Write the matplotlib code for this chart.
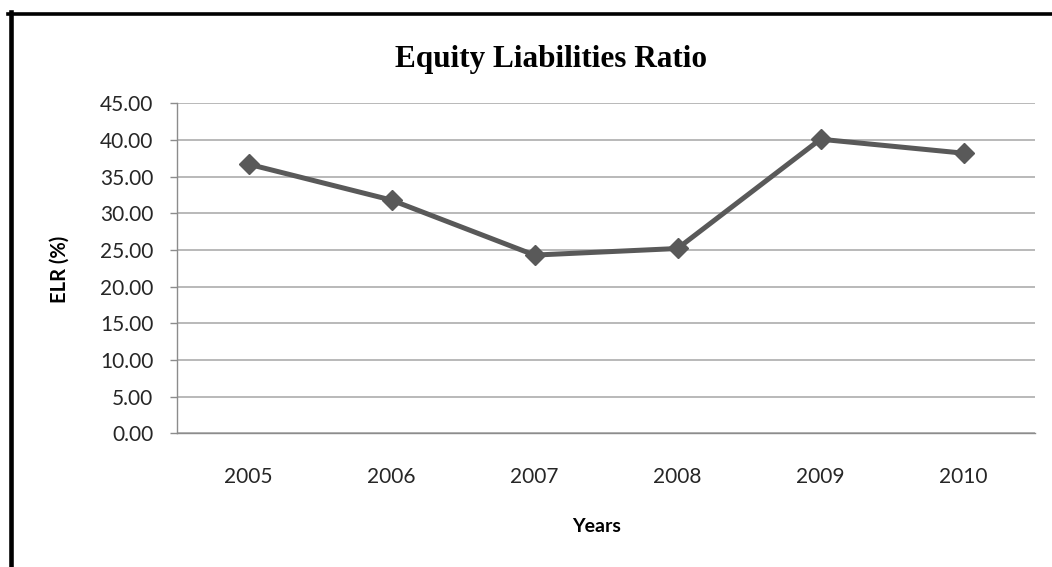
import matplotlib.pyplot as plt
from matplotlib.lines import Line2D

years = ['2005', '2006', '2007', '2008', '2009', '2010']
elr = [36.7, 31.8, 24.3, 25.2, 40.1, 38.2]
y_ticks = [0, 5, 10, 15, 20, 25, 30, 35, 40, 45]

W, H = 1052, 567
fig = plt.figure(figsize=(W / 100, H / 100), dpi=100)
ax = fig.add_axes([177 / W, 1 - 433.3 / H, (1035 - 177) / W, (433.3 - 103.3) / H])

x = list(range(len(years)))
ax.plot(x, elr, color='#595959', lw=3.6, marker='D', markersize=10,
        markerfacecolor='#595959', markeredgecolor='#595959', zorder=3)

ax.set_xlim(-0.5, len(years) - 0.5)
ax.set_ylim(0, 45)
ax.set_yticks(y_ticks)
ax.set_yticklabels([f'{v:.2f}' for v in y_ticks])
ax.set_xticks(x)
ax.set_xticklabels(years)

ax.grid(axis='y', color='#a6a6a6', lw=1.1)
ax.set_axisbelow(True)
for side in ('top', 'right'):
    ax.spines[side].set_visible(False)
for side in ('left', 'bottom'):
    ax.spines[side].set_color('#8c8c8c')
    ax.spines[side].set_linewidth(1.0)

ax.tick_params(axis='y', length=5, width=1.0, color='#8c8c8c', pad=12,
               labelsize=15, labelcolor='#262626')
ax.tick_params(axis='x', length=0, pad=24, labelsize=15, labelcolor='#262626')
for lab in ax.get_xticklabels() + ax.get_yticklabels():
    lab.set_fontfamily('Lato')

ax.set_ylabel('ELR (%)', fontfamily='Lato', fontweight='bold', fontsize=14.5,
              color='#000000')
ax.set_xlabel('Years', fontfamily='Lato', fontweight='bold', fontsize=14,
              color='#000000')
ax.yaxis.set_label_coords((60 - 177) / (1035 - 177), (433.3 - 269) / 330)
ax.xaxis.set_label_coords((597 - 177) / (1035 - 177), -(527 - 433.3) / 330)
ax.xaxis.label.set_va('center')
ax.yaxis.label.set_va('center')

fig.text(551 / W, 1 - 60 / H, 'Equity Liabilities Ratio', ha='center', va='center',
         fontfamily='Liberation Serif', fontweight='bold', fontsize=22.5)

# frame along the top and left edges
fig.add_artist(Line2D([8 / W, 1], [1 - 13.5 / H, 1 - 13.5 / H], color='black', lw=2.6,
                      transform=fig.transFigure))
fig.add_artist(Line2D([10.5 / W, 10.5 / W], [1 - 12 / H, 0], color='black', lw=3.3,
                      transform=fig.transFigure))

fig.savefig('out.png', dpi=100)
